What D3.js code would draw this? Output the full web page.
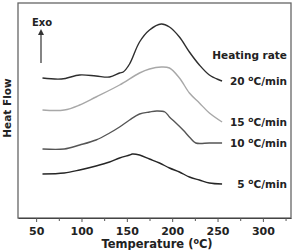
<!DOCTYPE html>
<html>
<head>
<meta charset="utf-8">
<script src="https://cdn.jsdelivr.net/npm/d3@7"></script>
<style>
  body { margin: 0; background: #fff; }
  svg text { font-family: "DejaVu Sans", Verdana, sans-serif; font-weight: bold; fill: #222; }
</style>
</head>
<body>
<script>
const W = 293, H = 250;
const margin = {top: 3, right: 2, bottom: 32, left: 18};

// temperatures (C) and heat flow (a.u.)
const temp20 = [57, 78, 98, 116, 131, 142, 146, 153, 164, 175, 188, 197, 208, 219, 230, 241, 252, 255];
const flow20 = [14.0, 13.9, 14.3, 14.2, 14.1, 14.5, 14.6, 15.4, 17.6, 18.8, 19.4, 19.1, 18.1, 16.6, 15.3, 14.3, 13.8, 13.7];
const temp15 = [57, 81, 98, 116, 142, 164, 175, 188, 197, 208, 219, 230, 241, 255];
const flow15 = [10.8, 10.8, 11.3, 12.1, 13.3, 14.5, 14.9, 15.1, 15.0, 14.0, 12.5, 11.5, 10.5, 9.6];
const temp10 = [57, 81, 98, 116, 131, 142, 153, 164, 175, 183, 192, 197, 203, 212, 220, 226, 241, 255];
const flow10 = [6.9, 6.9, 7.3, 7.8, 8.5, 9.1, 9.8, 10.4, 10.6, 10.7, 10.6, 10.1, 9.6, 8.8, 8.0, 7.5, 7.5, 7.5];
const temp5 = [57, 81, 98, 116, 131, 142, 153, 156, 164, 175, 186, 197, 208, 219, 230, 241, 255];
const flow5 = [4.4, 4.5, 4.8, 5.2, 5.6, 6.0, 6.3, 6.4, 6.3, 5.9, 5.5, 5.0, 4.6, 4.1, 3.8, 3.5, 3.4];

const rates = ["20", "15", "10", "5"];
const colors = ["#2e2e2e", "#a8a8a8", "#555555", "#262626"];
const xTicks = [50, 100, 150, 200, 250, 300];
const xMinor = [75, 125, 175, 225, 275, 325];

const svg = d3.select("body").append("svg").attr("width", W).attr("height", H);

const x = d3.scaleLinear().domain([30, 331]).range([margin.left, W - margin.right]);
const y = d3.scaleLinear().domain([0, 21.5]).range([H - margin.bottom, margin.top]);

// frame
svg.append("rect")
  .attr("x", margin.left).attr("y", margin.top)
  .attr("width", W - margin.right - margin.left)
  .attr("height", H - margin.bottom - margin.top)
  .attr("fill", "none").attr("stroke", "#666").attr("stroke-width", 1.3);

// x axis
let xAxis = d3.axisBottom(x).tickValues(xTicks).tickSize(4).tickSizeOuter(0);
let gx = svg.append("g").attr("transform", "translate(0," + (H - margin.bottom) + ")").call(xAxis);
gx.select(".domain").attr("stroke", "#444");
gx.selectAll(".tick line").attr("stroke", "#555");
gx.selectAll(".tick text").attr("font-size", 11).attr("dy", "0.95em").attr("fill", "#222");
svg.append("g").attr("transform", "translate(0," + (H - margin.bottom) + ")")
  .call(d3.axisBottom(x).tickValues(xMinor).tickSize(3).tickFormat(""))
  .call(g => g.select(".domain").remove())
  .selectAll(".tick line").attr("stroke", "#555");

// axis titles
let xt = svg.append("text").attr("x", 157).attr("y", 248).attr("text-anchor", "middle").attr("font-size", 11.5);
xt.append("tspan").text("Temperature (");
xt.append("tspan").attr("font-size", 8).attr("dy", -4).text("o");
xt.append("tspan").attr("dy", 4).text("C)");

svg.append("text").attr("transform", "translate(11,108) rotate(-90)")
  .attr("text-anchor", "middle").attr("font-size", 10.5).text("Heat Flow");

// exo arrow
svg.append("defs").append("marker").attr("id", "arr")
  .attr("viewBox", "0 0 10 10").attr("refX", 5).attr("refY", 5)
  .attr("markerWidth", 5).attr("markerHeight", 5).attr("orient", "auto")
  .append("path").attr("d", "M0,0 L10,5 L0,10 z").attr("fill", "#333");
svg.append("line").attr("x1", 41).attr("x2", 41).attr("y1", 63).attr("y2", 32)
  .attr("stroke", "#333").attr("stroke-width", 1.2).attr("marker-end", "url(#arr)");
svg.append("text").attr("x", 32).attr("y", 26).attr("font-size", 10).text("Exo");

// curves
const series = [[temp20, flow20], [temp15, flow15], [temp10, flow10], [temp5, flow5]];
const line = d3.line().x(d => x(d[0])).y(d => y(d[1])).curve(d3.curveCatmullRom);

series.forEach((s, i) => {
  let pts = s[0].map((t, j) => [t, s[1][j]]);
  svg.append("path").datum(pts)
    .attr("d", line)
    .attr("fill", "none")
    .attr("stroke", colors[i])
    .attr("stroke-width", 1.4);

  let last = pts[pts.length - 1];
  let lab = svg.append("text").attr("x", 287).attr("y", y(last[1]) + 4)
    .attr("text-anchor", "end").attr("font-size", 10.5);
  lab.append("tspan").text(rates[i] + " ");
  lab.append("tspan").attr("font-size", 7.5).attr("dy", -4).text("o");
  lab.append("tspan").attr("dy", 4).text("C/min");
});

svg.append("text").attr("x", 287).attr("y", 59).attr("text-anchor", "end")
  .attr("font-size", 10.5).text("Heating rate");
</script>
</body>
</html>
